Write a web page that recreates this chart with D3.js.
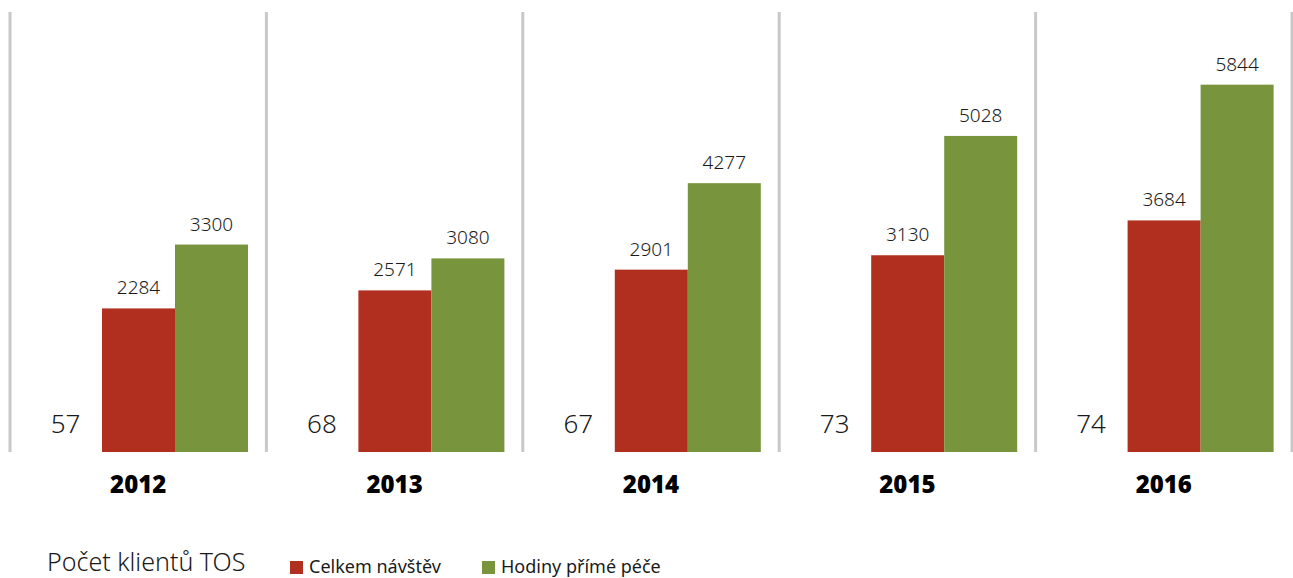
<!DOCTYPE html>
<html>
<head>
<meta charset="utf-8">
<script src="https://cdn.jsdelivr.net/npm/d3@7"></script>
<style>
  body { margin: 0; background: #fff; }
  text { font-family: "Noto Sans", "Open Sans", sans-serif; }
</style>
</head>
<body>
<svg width="1293" height="578"></svg>
<script>
// data
const roky = ["2012", "2013", "2014", "2015", "2016"];
const klienti = [57, 68, 67, 73, 74];
const navstevy = [2284, 2571, 2901, 3130, 3684];
const hodiny = [3300, 3080, 4277, 5028, 5844];

const svg = d3.select("svg");
const cervena = "#b02f1e";
const zelena = "#78953d";

// skupiny roků
const x = d3.scaleBand().domain(roky).range([10, 1292]).paddingInner(0).paddingOuter(0);
// tři sloupce v každé skupině: klienti (neviditelný), návštěvy, hodiny
const serie = ["klienti", "navstevy", "hodiny"];
const xs = d3.scaleBand().domain(serie).range([19, 238]);
const y = d3.scaleLinear().domain([0, 7000]).range([452, 12]);

// svislé oddělovače
svg.selectAll("line.sep")
  .data(roky.concat(["konec"]))
  .enter().append("line")
  .attr("class", "sep")
  .attr("x1", (d, i) => i < roky.length ? x(d) : x.range()[1])
  .attr("x2", (d, i) => i < roky.length ? x(d) : x.range()[1])
  .attr("y1", 12)
  .attr("y2", 452)
  .style("stroke", "#c8c8c8")
  .style("stroke-width", 3);

const skupiny = svg.selectAll("g.rok")
  .data(roky)
  .enter().append("g")
  .attr("class", "rok")
  .attr("transform", d => `translate(${x(d)},0)`);

// sloupce návštěv
skupiny.append("rect")
  .attr("x", xs("navstevy"))
  .attr("width", xs.bandwidth())
  .attr("y", (d, i) => y(navstevy[i]))
  .attr("height", (d, i) => y(0) - y(navstevy[i]))
  .style("fill", cervena);

// sloupce hodin
skupiny.append("rect")
  .attr("x", xs("hodiny"))
  .attr("width", xs.bandwidth())
  .attr("y", (d, i) => y(hodiny[i]))
  .attr("height", (d, i) => y(0) - y(hodiny[i]))
  .style("fill", zelena);

// popisky hodnot
skupiny.append("text")
  .attr("x", xs("navstevy") + xs.bandwidth() / 2)
  .attr("y", (d, i) => y(navstevy[i]) - 14)
  .attr("text-anchor", "middle")
  .style("font-size", "19px")
  .style("font-weight", 300)
  .style("fill", "#1a1a1a")
  .text((d, i) => navstevy[i]);

skupiny.append("text")
  .attr("x", xs("hodiny") + xs.bandwidth() / 2)
  .attr("y", (d, i) => y(hodiny[i]) - 14)
  .attr("text-anchor", "middle")
  .style("font-size", "19px")
  .style("font-weight", 300)
  .style("fill", "#1a1a1a")
  .text((d, i) => hodiny[i]);

// počet klientů
skupiny.append("text")
  .attr("x", xs("klienti") + xs.bandwidth() / 2)
  .attr("y", 433)
  .attr("text-anchor", "middle")
  .style("font-size", "26px")
  .style("font-weight", 300)
  .style("fill", "#1a1a1a")
  .text((d, i) => klienti[i]);

// roky
skupiny.append("text")
  .attr("x", x.bandwidth() / 2)
  .attr("y", 493)
  .attr("text-anchor", "middle")
  .style("font-size", "24px")
  .style("font-weight", 900)
  .style("fill", "#000")
  .text(d => d);

// legenda
svg.append("text")
  .attr("x", 47)
  .attr("y", 571)
  .style("font-size", "25px")
  .style("font-weight", 300)
  .style("fill", "#1a1a1a")
  .text("Počet klientů TOS");

const legenda = [
  { nazev: "Celkem návštěv", barva: cervena, x: 290 },
  { nazev: "Hodiny přímé péče", barva: zelena, x: 482 }
];
const lg = svg.selectAll("g.leg")
  .data(legenda)
  .enter().append("g")
  .attr("class", "leg")
  .attr("transform", d => `translate(${d.x},0)`);
lg.append("rect")
  .attr("y", 561).attr("width", 13).attr("height", 13)
  .style("fill", d => d.barva);
lg.append("text")
  .attr("x", 19)
  .attr("y", 573)
  .style("font-size", "18px")
  .style("font-weight", 400)
  .style("fill", "#1a1a1a")
  .text(d => d.nazev);
</script>
</body>
</html>
